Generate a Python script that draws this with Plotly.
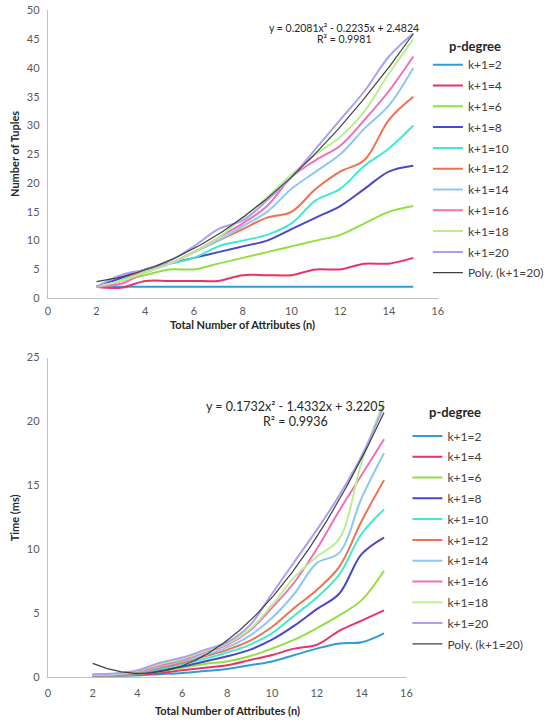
import numpy as np
import plotly.graph_objects as go

# ---------------- data ----------------
n_attr = [2, 3, 4, 5, 6, 7, 8, 9, 10, 11, 12, 13, 14, 15]
series_names = ["k+1=2", "k+1=4", "k+1=6", "k+1=8", "k+1=10",
                "k+1=12", "k+1=14", "k+1=16", "k+1=18", "k+1=20"]

# Number of tuples
tup_k2 = [2, 2, 2, 2, 2, 2, 2, 2, 2, 2, 2, 2, 2, 2]
tup_k4 = [2, 1.8, 3, 3, 3, 3, 4, 4, 4, 5, 5, 6, 6, 7]
tup_k6 = [2, 3, 4, 5, 5, 6, 7, 8, 9, 10, 11, 13, 15, 16]
tup_k8 = [2, 3.5, 5, 6, 7, 8, 9, 10, 12, 14, 16, 19, 22, 23]
tup_k10 = [2, 3, 5, 6, 7, 9, 10, 11, 13, 17, 19, 23, 26, 30]
tup_k12 = [2, 3, 5, 6, 8, 10, 12, 14, 15, 19, 22, 24, 31, 35]
tup_k14 = [2, 3, 4.5, 6, 8, 10, 12.5, 15, 19, 22, 25, 29.5, 33.5, 40]
tup_k16 = [2, 2.5, 4.5, 6, 8, 10.5, 13, 16, 21, 24, 26.5, 31, 36, 42]
tup_k18 = [2, 3, 4.5, 6, 8, 10.5, 14, 17.5, 21.5, 25, 28, 32.5, 39, 45]
tup_k20 = [2, 4, 5, 6.5, 9, 12, 13.5, 17, 21, 26, 31, 36, 42, 46]
tuples = [tup_k2, tup_k4, tup_k6, tup_k8, tup_k10, tup_k12, tup_k14, tup_k16, tup_k18, tup_k20]
tup_poly = [0.2081, -0.2235, 2.4824]
tup_r2 = "0.9981"

# Time (ms)
time_k2 = [0.05, 0.05, 0.1, 0.2, 0.3, 0.45, 0.6, 0.9, 1.2, 1.7, 2.2, 2.6, 2.7, 3.4]
time_k4 = [0.08, 0.1, 0.15, 0.3, 0.5, 0.7, 0.9, 1.3, 1.7, 2.2, 2.5, 3.6, 4.4, 5.2]
time_k6 = [0.1, 0.12, 0.2, 0.4, 0.7, 1.0, 1.2, 1.6, 2.2, 2.9, 3.8, 4.8, 6.0, 8.3]
time_k8 = [0.1, 0.15, 0.25, 0.5, 0.8, 1.2, 1.6, 2.1, 2.9, 4.0, 5.3, 6.5, 9.6, 10.9]
time_k10 = [0.1, 0.15, 0.3, 0.6, 1.0, 1.4, 1.9, 2.5, 3.4, 4.8, 6.2, 8.0, 11.2, 13.1]
time_k12 = [0.1, 0.15, 0.3, 0.7, 1.1, 1.6, 2.1, 2.8, 3.9, 5.4, 6.8, 8.6, 12.2, 15.4]
time_k14 = [0.12, 0.2, 0.35, 0.8, 1.2, 1.7, 2.3, 3.2, 4.6, 6.5, 8.9, 9.7, 14.0, 17.5]
time_k16 = [0.12, 0.2, 0.4, 0.9, 1.3, 1.9, 2.5, 3.6, 5.4, 7.4, 10.0, 13.0, 15.8, 18.6]
time_k18 = [0.15, 0.2, 0.45, 1.0, 1.4, 2.0, 2.6, 3.7, 5.6, 7.8, 9.4, 10.8, 16.8, 21.6]
time_k20 = [0.2, 0.25, 0.5, 1.1, 1.5, 2.1, 2.7, 4.0, 6.5, 9.0, 11.5, 14.2, 17.3, 21.2]
times = [time_k2, time_k4, time_k6, time_k8, time_k10, time_k12, time_k14, time_k16, time_k18, time_k20]
time_poly = [0.1732, -1.4332, 3.2205]
time_r2 = "0.9936"

x_ticks = [0, 2, 4, 6, 8, 10, 12, 14, 16]

# ---------------- styling ----------------
colors = ["#2E9CDB", "#E8336A", "#90E040", "#4B48C8", "#3EEAD0",
          "#F07050", "#8EC8F0", "#F070B8", "#B8F090", "#A8A0F0"]
poly_color = "#404040"
FONT = "Lato"
W, H = 549, 722


def px(xp):
    return xp / W


def py(yp):
    return 1 - yp / H


fig = go.Figure()


def add_block(data, coef, xa, ya, legend):
    for i, (name, vals) in enumerate(zip(series_names, data)):
        fig.add_trace(go.Scatter(
            x=n_attr, y=vals, mode="lines", name=name,
            line=dict(color=colors[i], width=2, shape="spline", smoothing=1),
            xaxis=xa, yaxis=ya, legend=legend, legendgroup=legend + name,
            hoverinfo="skip"))
    xf = np.linspace(n_attr[0], n_attr[-1], 200)
    yf = np.polyval(coef, xf)
    fig.add_trace(go.Scatter(
        x=xf, y=yf, mode="lines", name="Poly. (k+1=20)",
        line=dict(color=poly_color, width=1.2),
        xaxis=xa, yaxis=ya, legend=legend, legendgroup=legend + "poly",
        hoverinfo="skip"))


add_block(tuples, tup_poly, "x", "y", "legend")
add_block(times, time_poly, "x2", "y2", "legend2")


def eq_text(coef):
    a, b, c = coef
    sb = "-" if b < 0 else "+"
    sc = "-" if c < 0 else "+"
    return f"y = {a:.4f}x² {sb} {abs(b):.4f}x {sc} {abs(c):.4f}"


axis_common = dict(showline=True, linecolor="#BFBFBF", linewidth=1, showgrid=False,
                   zeroline=False, ticks="", tickfont=dict(family=FONT, size=11, color="#595959"))

fig.update_layout(
    width=W, height=H, margin=dict(l=0, r=0, t=0, b=0),
    paper_bgcolor="white", plot_bgcolor="white",
    font=dict(family=FONT, color="#404040"),
    xaxis=dict(domain=[px(46), px(446)], range=[0, 16], tickvals=x_ticks, anchor="y",
               ticklabelstandoff=3, **axis_common),
    yaxis=dict(domain=[py(296.5), py(3.5)], range=[0, 50], dtick=5, anchor="x",
               ticklabelstandoff=5, **axis_common),
    xaxis2=dict(domain=[px(46), px(414)], range=[0, 16], tickvals=x_ticks, anchor="y2",
                ticklabelstandoff=6, **axis_common),
    yaxis2=dict(domain=[py(682), py(357)], range=[0, 25], dtick=5, anchor="x2",
                ticklabelstandoff=5, **axis_common),
    legend=dict(x=px(436), y=py(44), xanchor="left", yanchor="top",
                font=dict(family=FONT, size=12, color="#404040"),
                bgcolor="rgba(0,0,0,0)", tracegroupgap=1.8, itemwidth=30),
    legend2=dict(x=px(415), y=py(422), xanchor="left", yanchor="top",
                 font=dict(family=FONT, size=12, color="#404040"),
                 bgcolor="rgba(0,0,0,0)", tracegroupgap=1.8, itemwidth=30),
)

ann = []
title_font = dict(family=FONT, size=11, color="#262626")


def note(text, x, y, font, xanchor="center", textangle=0):
    ann.append(dict(text=text, x=px(x), y=py(y), xref="paper", yref="paper",
                    xanchor=xanchor, yanchor="middle", textangle=textangle,
                    showarrow=False, font=font))


note("<b>Total Number of Attributes (n)</b>", 246, 323, title_font)
note("<b>Total Number of Attributes (n)</b>", 230, 716, title_font)
note("<b>Number of Tuples</b>", 12, 150, title_font, textangle=-90)
note("<b>Time (ms)</b>", 12, 520, title_font, textangle=-90)
pdeg_font = dict(family=FONT, size=13, color="#262626")
note("<b>p-degree</b>", 456, 40, pdeg_font, xanchor="left")
note("<b>p-degree</b>", 435, 412, pdeg_font, xanchor="left")
# trendline equations
eq_small = dict(family=FONT, size=10.5, color="#262626")
eq_big = dict(family=FONT, size=12.5, color="#262626")
note(eq_text(tup_poly), 350, 21, eq_small)
note(f"R² = {tup_r2}", 350, 33, eq_small)
note(eq_text(time_poly), 300, 407, eq_big)
note(f"R² = {time_r2}", 300, 422, eq_big)
fig.update_layout(annotations=ann)

fig.write_html("out.html")
